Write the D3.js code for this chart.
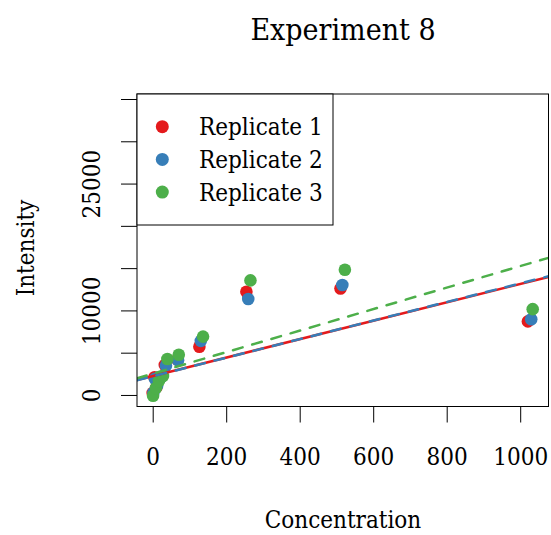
<!DOCTYPE html>
<html>
<head>
<meta charset="utf-8">
<script src="https://cdn.jsdelivr.net/npm/d3@7"></script>
<style>
  html, body { margin: 0; padding: 0; background: #fff; }
  svg text { font-family: "DejaVu Serif", "Liberation Serif", serif; font-stretch: condensed; fill: #000; }
</style>
</head>
<body>
<svg id="chart" width="551" height="535"></svg>
<script>
// ---- data ----
const seriesNames = ["Replicate 1", "Replicate 2", "Replicate 3"];
const seriesColors = ["#E41A1C", "#377EB8", "#4DAF4A"];

const rep1X = [0, 5, 10, 18, 33, 67, 127, 255, 511, 1021];
const rep1Y = [240, 2100, 900, 1900, 3550, 4200, 5700, 12200, 12600, 8700];
const rep2X = [2, 6, 12, 21, 36, 69, 131, 260, 516, 1030];
const rep2Y = [300, 1900, 1100, 2000, 3450, 4100, 6400, 11350, 13000, 8950];
const rep3X = [1, 9, 17, 28, 40, 71, 137, 266, 523, 1034];
const rep3Y = [-100, 830, 1660, 2250, 4250, 4750, 6900, 13550, 14800, 10150];

// fitted lines: intercept and slope per replicate
const fitIntercept = [2241, 2209, 2518];
const fitSlope = [10.88, 10.98, 12.72];
const fitDashed = [false, true, true];

const xTicks = [0, 200, 400, 600, 800, 1000];
const yTicks = [0, 5000, 10000, 15000, 20000, 25000, 30000, 35000];
const yTickLabels = [0, 10000, 25000];

const title = "Experiment 8";
const xLabel = "Concentration";
const yLabel = "Intensity";

// ---- layout ----
const svg = d3.select("#chart");
const pLeft = 137, pRight = 548.5, pTop = 94, pBottom = 406.5;

const x = d3.scaleLinear().domain([-42.7, 1077]).range([pLeft, pRight]);
const y = d3.scaleLinear().domain([-1364, 35593]).range([pBottom, pTop]);

const series = [
  { name: seriesNames[0], color: seriesColors[0], xs: rep1X, ys: rep1Y },
  { name: seriesNames[1], color: seriesColors[1], xs: rep2X, ys: rep2Y },
  { name: seriesNames[2], color: seriesColors[2], xs: rep3X, ys: rep3Y }
];

svg.append("defs").append("clipPath").attr("id", "plotclip")
  .append("rect").attr("x", pLeft).attr("y", pTop)
  .attr("width", pRight - pLeft).attr("height", pBottom - pTop);

// points
const pts = svg.append("g").attr("clip-path", "url(#plotclip)");
series.forEach(s => {
  pts.selectAll(null)
    .data(s.xs.map((v, i) => [v, s.ys[i]]))
    .enter().append("circle")
    .attr("cx", d => x(d[0]))
    .attr("cy", d => y(d[1]))
    .attr("r", 6.3)
    .attr("fill", s.color);
});

// fitted lines
const lines = svg.append("g").attr("clip-path", "url(#plotclip)");
const xd = x.domain();
series.forEach((s, i) => {
  lines.append("line")
    .attr("x1", x(xd[0])).attr("y1", y(fitIntercept[i] + fitSlope[i] * xd[0]))
    .attr("x2", x(xd[1])).attr("y2", y(fitIntercept[i] + fitSlope[i] * xd[1]))
    .attr("stroke", s.color)
    .attr("stroke-width", 2.5)
    .attr("stroke-linecap", "round")
    .attr("stroke-dasharray", fitDashed[i] ? "10,10" : null);
});

// box
svg.append("rect")
  .attr("x", pLeft).attr("y", pTop)
  .attr("width", pRight - pLeft).attr("height", pBottom - pTop)
  .attr("fill", "none").attr("stroke", "#000").attr("stroke-width", 1);

// x axis
const xAxis = d3.axisBottom(x).tickValues(xTicks).tickSize(16).tickPadding(25)
  .tickFormat(d3.format("d"));
const gx = svg.append("g").attr("transform", `translate(0,${pBottom})`).call(xAxis);
gx.select(".domain").remove();
gx.selectAll(".tick line").attr("stroke", "#000");
gx.selectAll(".tick text").attr("font-size", 24).attr("font-family", null);

// y axis
const yAxis = d3.axisLeft(y).tickValues(yTicks).tickSize(16).tickPadding(21)
  .tickFormat(d => yTickLabels.includes(d) ? d3.format("d")(d) : "");
const gy = svg.append("g").attr("transform", `translate(${pLeft},0)`).call(yAxis);
gy.select(".domain").remove();
gy.selectAll(".tick line").attr("stroke", "#000");
gy.selectAll(".tick text")
  .attr("font-size", 24).attr("font-family", null)
  .attr("text-anchor", "middle")
  .attr("dy", null)
  .attr("x", null)
  .attr("transform", "translate(-37,0) rotate(-90)")
  .attr("y", 0);

// titles
svg.append("text").attr("x", 343).attr("y", 40)
  .attr("text-anchor", "middle").attr("font-size", 30).text(title);
svg.append("text").attr("x", 343).attr("y", 528)
  .attr("text-anchor", "middle").attr("font-size", 24).text(xLabel);
svg.append("text").attr("transform", "translate(34,248) rotate(-90)")
  .attr("text-anchor", "middle").attr("font-size", 24).text(yLabel);

// legend
const lg = svg.append("g");
lg.append("rect").attr("x", pLeft).attr("y", pTop).attr("width", 196).attr("height", 131)
  .attr("fill", "#fff").attr("stroke", "#000").attr("stroke-width", 1);
series.forEach((s, i) => {
  const cy = 126.7 + i * 32.7;
  lg.append("circle").attr("cx", 162.3).attr("cy", cy).attr("r", 6.5).attr("fill", s.color);
  lg.append("text").attr("x", 199).attr("y", cy + 8.5).attr("font-size", 24).text(s.name);
});
</script>
</body>
</html>
